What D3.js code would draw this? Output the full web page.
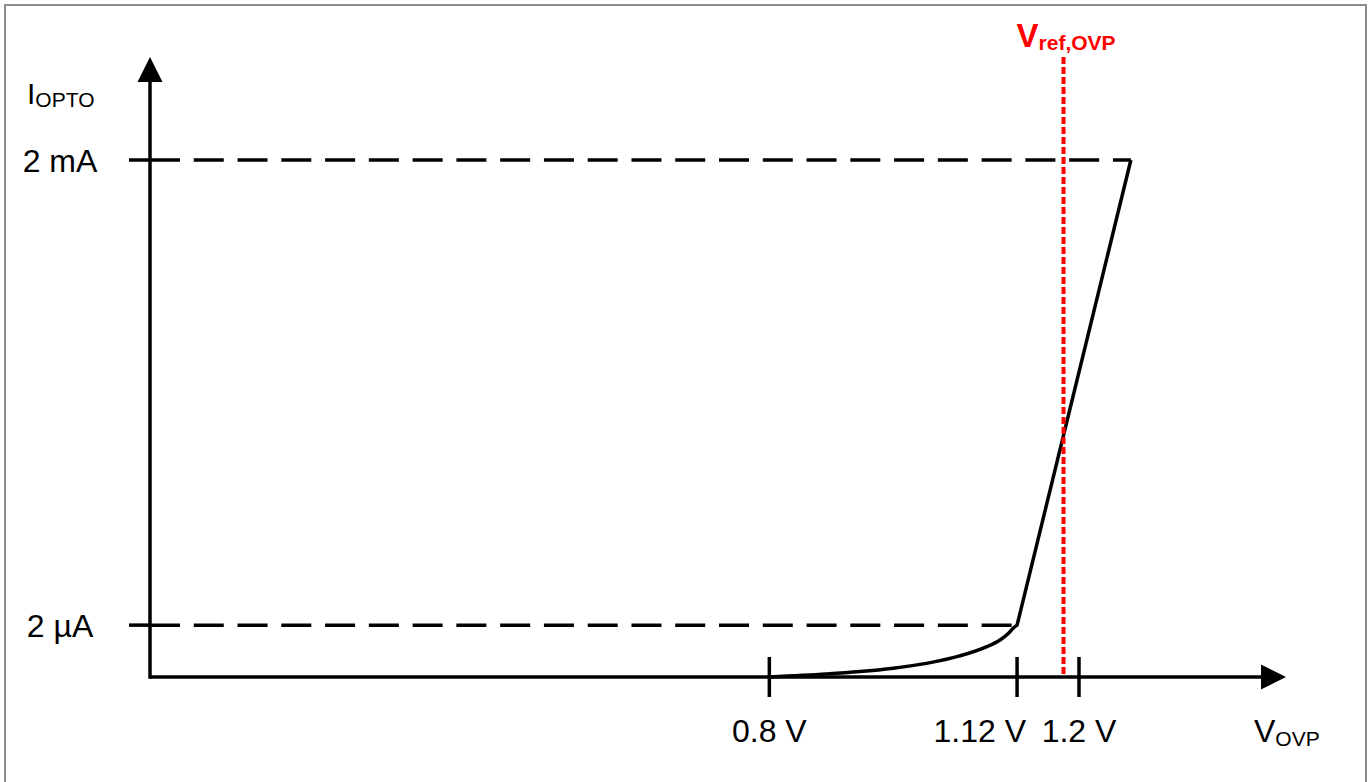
<!DOCTYPE html>
<html>
<head>
<meta charset="utf-8">
<script src="https://cdn.jsdelivr.net/npm/d3@7"></script>
<style>
  html, body { margin: 0; padding: 0; background: #fff; }
  svg { display: block; }
  text { font-family: "Liberation Sans", Arial, sans-serif; }
</style>
</head>
<body>
<div id="chart"></div>
<script>
// knee curve of the optocoupler current
var lowVolts = [0.8, 0.874, 0.917, 0.96, 1.003, 1.046, 1.081, 1.098, 1.109, 1.115, 1.12];
var lowMicroamps = [0, 0.08, 0.15, 0.25, 0.4, 0.65, 1.0, 1.28, 1.59, 1.84, 2];
// steep part after the knee
var rampVolts = [1.12, 1.267];
var rampMicroamps = [2, 2000];

var xTicks = [0.8, 1.12, 1.2];
var xTickLabels = ["0.8 V", "1.12 V", "1.2 V"];
var yLevels = [2, 2000];
var yLabels = ["2 µA", "2 mA"];
var vRef = 1.18;

var width = 1370, height = 782;
var left = 150, bottom = 677, axisRight = 1286, axisTop = 57;

var svg = d3.select("#chart").append("svg")
  .attr("width", width)
  .attr("height", height);

// frame
svg.append("rect")
  .attr("x", 5).attr("y", 5)
  .attr("width", 1361).attr("height", 800)
  .attr("fill", "none")
  .attr("stroke", "#8c8c8c")
  .attr("stroke-width", 2);

var x = d3.scaleLinear().domain([0, 1.2]).range([left, 1079]);
// schematic current axis: symlog puts 2 µA and 2 mA at the drawn levels
var y = d3.scaleSymlog().constant(2).domain([0, 2000]).range([bottom, 160]);

// dashed guide lines
svg.append("g").selectAll("line")
  .data(yLevels)
  .enter()
  .append("line")
  .attr("x1", left)
  .attr("x2", function (d, i) { return i == 0 ? x(rampVolts[0]) : x(rampVolts[1]); })
  .attr("y1", function (d) { return y(d); })
  .attr("y2", function (d) { return y(d); })
  .attr("stroke", "#000")
  .attr("stroke-width", 3.5)
  .attr("stroke-dasharray", "30,13.77");

// y ticks + labels
svg.append("g").selectAll("line")
  .data(yLevels)
  .enter()
  .append("line")
  .attr("x1", left - 21).attr("x2", left)
  .attr("y1", function (d) { return y(d); })
  .attr("y2", function (d) { return y(d); })
  .attr("stroke", "#000")
  .attr("stroke-width", 3.5);

svg.append("g").selectAll("text")
  .data(yLevels)
  .enter()
  .append("text")
  .attr("x", 60)
  .attr("y", function (d) { return y(d) + 12; })
  .attr("text-anchor", "middle")
  .style("font-size", "32px")
  .text(function (d, i) { return yLabels[i]; });

// axes
svg.append("line")
  .attr("x1", left).attr("x2", axisRight - 24)
  .attr("y1", bottom).attr("y2", bottom)
  .attr("stroke", "#000").attr("stroke-width", 3.5);
svg.append("line")
  .attr("x1", left).attr("x2", left)
  .attr("y1", bottom + 1.75).attr("y2", axisTop + 24)
  .attr("stroke", "#000").attr("stroke-width", 3.5);
svg.append("path")
  .attr("d", "M" + axisRight + "," + bottom + "L" + (axisRight - 25) + "," + (bottom - 12.5) + "L" + (axisRight - 25) + "," + (bottom + 12.5) + "Z")
  .attr("fill", "#000");
svg.append("path")
  .attr("d", "M" + left + "," + axisTop + "L" + (left - 12.5) + "," + (axisTop + 25) + "L" + (left + 12.5) + "," + (axisTop + 25) + "Z")
  .attr("fill", "#000");

// x ticks cross the axis
svg.append("g").selectAll("line")
  .data(xTicks)
  .enter()
  .append("line")
  .attr("x1", function (d) { return x(d); })
  .attr("x2", function (d) { return x(d); })
  .attr("y1", bottom - 20).attr("y2", bottom + 20)
  .attr("stroke", "#000")
  .attr("stroke-width", 3.5);

svg.append("g").selectAll("text")
  .data(xTicks)
  .enter()
  .append("text")
  .attr("x", function (d, i) { return i == 1 ? x(d) + 9 : x(d); })
  .attr("y", 742)
  .attr("text-anchor", function (d, i) { return i == 1 ? "end" : "middle"; })
  .style("font-size", "32px")
  .text(function (d, i) { return xTickLabels[i]; });

// the curve
var low = d3.line()
  .x(function (d) { return x(d[0]); })
  .y(function (d) { return y(d[1]); })
  .curve(d3.curveMonotoneX);
var lowPts = lowVolts.map(function (v, i) { return [v, lowMicroamps[i]]; });
svg.append("path")
  .attr("d", low(lowPts) + "L" + x(rampVolts[1]) + "," + y(rampMicroamps[1]))
  .attr("fill", "none")
  .attr("stroke", "#000")
  .attr("stroke-width", 3.5)
  .attr("stroke-linejoin", "miter");

// reference voltage
svg.append("line")
  .attr("x1", x(vRef)).attr("x2", x(vRef))
  .attr("y1", axisTop).attr("y2", bottom)
  .attr("stroke", "#ff0000")
  .attr("stroke-width", 4)
  .attr("stroke-dasharray", "7,3");

var ref = svg.append("text")
  .attr("x", x(vRef) - 47)
  .attr("y", 47)
  .attr("fill", "#ff0000")
  .style("font-weight", "bold")
  .style("font-size", "33px");
ref.append("tspan").text("V");
ref.append("tspan").attr("dy", 3).style("font-size", "21px").text("ref,OVP");

// axis names
var yName = svg.append("text").attr("x", 27).attr("y", 104).style("font-size", "30px");
yName.append("tspan").text("I");
yName.append("tspan").attr("dy", 3).style("font-size", "21px").text("OPTO");

var xName = svg.append("text").attr("x", 1254).attr("y", 742).style("font-size", "32px");
xName.append("tspan").text("V");
xName.append("tspan").attr("dy", 4).style("font-size", "21px").text("OVP");
</script>
</body>
</html>
